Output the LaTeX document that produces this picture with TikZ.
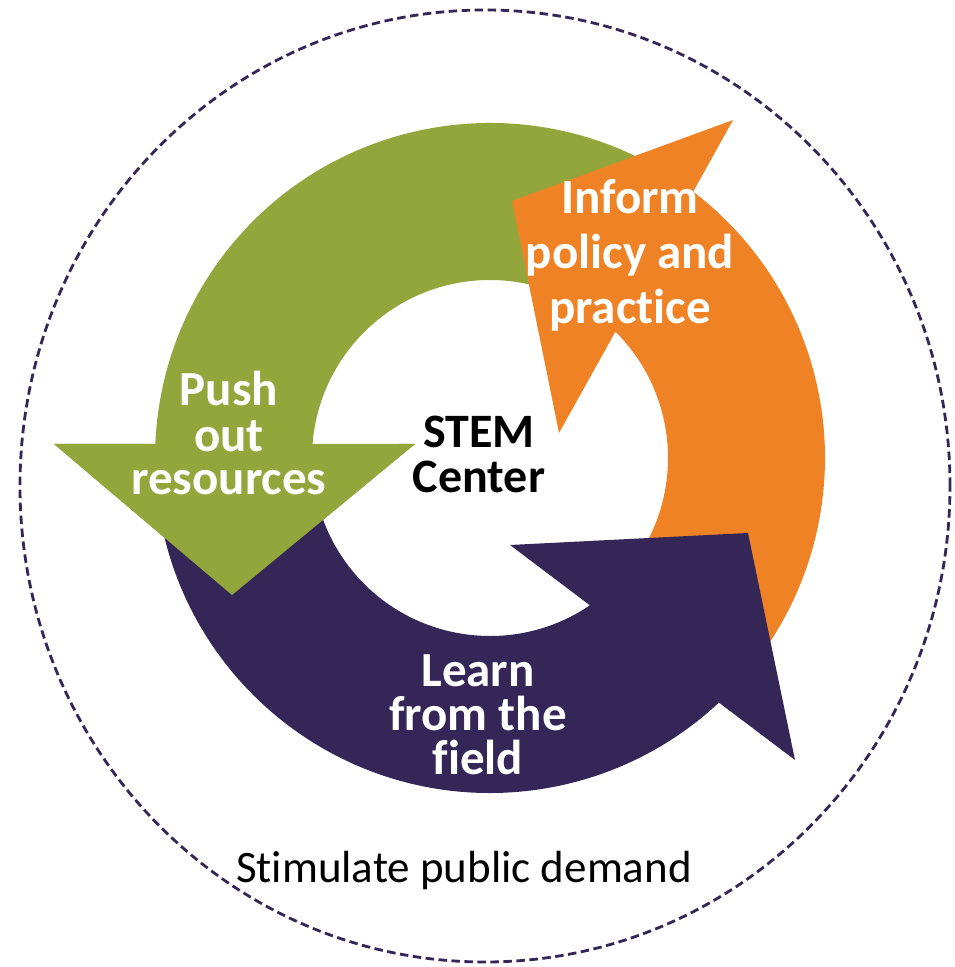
\documentclass[tikz,border=0pt]{standalone}
\usepackage{fontspec}
\setmainfont{Carlito}[Ligatures={NoCommon}]
\definecolor{grn}{RGB}{147,166,60}
\definecolor{org}{RGB}{240,130,38}
\definecolor{pur}{RGB}{52,39,87}
\begin{document}
\begin{tikzpicture}[x=1pt,y=1pt,
  lbl/.style={text=white,font=\fontsize{49}{49}\selectfont\bfseries,inner sep=0pt,anchor=base},
  ctr/.style={text=black,font=\fontsize{48}{48}\selectfont\bfseries,inner sep=0pt,anchor=base},
  outer/.style={text=black,font=\fontsize{45}{45}\selectfont,inner sep=0pt,anchor=base}]
\useasboundingbox (0,0) rectangle (954,967);
\coordinate (C) at (490,509);
% dashed boundary
\draw[pur,line width=2.8pt,dash pattern=on 8.5pt off 4.5pt] (485,481) ellipse[x radius=465,y radius=476];
% green band + head
\fill[grn] ([shift={(C)}]55:335) arc[start angle=55,end angle=177.6,radius=335]
  -- (54,523) -- (232,372) -- (415,523) -- ([shift={(C)}]175.5:178)
  arc[start angle=175.5,end angle=55,radius=178] -- cycle;
% orange
\fill[org] ([shift={(C)}]-40:335) arc[start angle=-40,end angle=52.66,radius=335]
  -- (733,847) -- (512,766) -- (559,534) -- ([shift={(C)}]45.2:178)
  arc[start angle=45.2,end angle=-40,radius=178] -- cycle;
% purple
\fill[pur] ([shift={(C)}]185:335) arc[start angle=185,end angle=313.1,radius=335]
  -- (795,207) -- (748,434) -- (510,422) -- ([shift={(C)}]304.15:178)
  arc[start angle=304.15,end angle=185,radius=178] -- cycle;
% green head on top
\fill[grn] (54,523) -- (232,372) -- (415,523) -- cycle;
% labels
\node[lbl] (inf1) at (630,753.3) {Inform};
\node[lbl] (inf2) at (630,698.4) {policy and};
\node[lbl] (inf3) at (630,643.4) {practice};
\node[lbl] (push1) at (229,561) {Push};
\node[lbl] (push2) at (229,515.5) {out};
\node[lbl] (push3) at (229,472) {resources};
\node[lbl] (lrn1) at (478,280.2) {Learn};
\node[lbl] (lrn2) at (478,236) {from the};
\node[lbl] (lrn3) at (478,192) {field};
\node[ctr] (stem1) at (479,519) {STEM};
\node[ctr] (stem2) at (479,474) {Center};
\node[outer] (stim) at (464,84) {Stimulate public demand};
\end{tikzpicture}
\end{document}
